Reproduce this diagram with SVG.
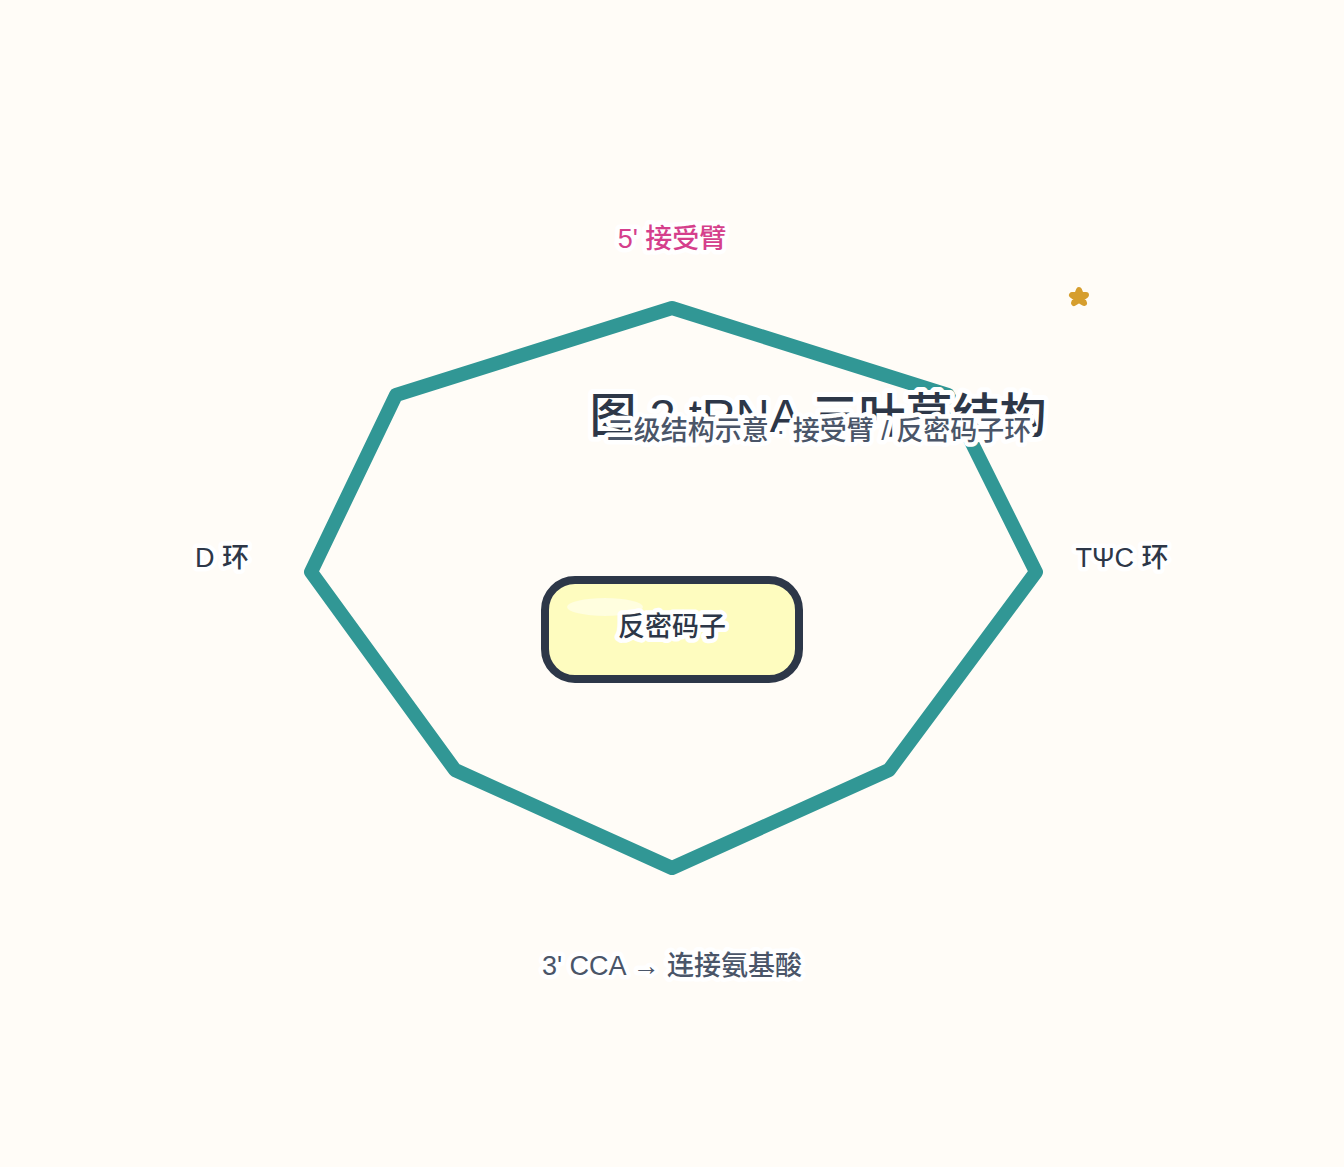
<svg xmlns="http://www.w3.org/2000/svg" width="1344" height="1167" viewBox="0 0 1344 1167">
  <style>
    .t { font-family: "Liberation Sans", "Noto Sans CJK SC", sans-serif; font-weight: 500; text-anchor: middle; paint-order: stroke; stroke: #ffffff; stroke-linejoin: round; }
    .lbl { font-size: 27px; stroke-width: 9px; }
  </style>
  <rect width="1344" height="1167" fill="#fffcf7"/>
  <g id="connectors">
    <polygon points="672,308 948,395 1036,572 889,770 672,868 455,770 311,572 396,395" fill="none" stroke="#319795" stroke-width="14" stroke-linejoin="round"/>
  </g>
  <g id="title">
    <text class="t" x="818" y="432" font-size="47" fill="#2d3748" stroke-width="10">图 2 tRNA 三叶草结构</text>
    <text class="t" x="819" y="440" font-size="27" fill="#4a5568" stroke-width="9">二级结构示意 · 接受臂 / 反密码子环</text>
  </g>
  <g id="node-acceptor">
    <text class="t lbl" x="672" y="248" fill="#d53f8c">5' 接受臂</text>
  </g>
  <g id="node-d-loop">
    <text class="t lbl" x="222" y="567" fill="#2d3748">D 环</text>
  </g>
  <g id="node-tpsic-loop">
    <text class="t lbl" x="1122" y="567" fill="#2d3748">TΨC 环</text>
  </g>
  <g id="node-cca">
    <text class="t lbl" x="672" y="975" fill="#4a5568">3' CCA → 连接氨基酸</text>
  </g>
  <g id="node-anticodon">
    <rect x="545" y="580" width="254" height="99" rx="30" fill="#fefcbf" stroke="#2d3748" stroke-width="8"/>
    <ellipse cx="605" cy="607" rx="38" ry="9" fill="#ffffff" opacity="0.5"/>
    <text class="t lbl" x="672" y="636" fill="#2d3748">反密码子</text>
  </g>
  <g id="sparkle">
    <path d="M1079,290 L1081,295 L1086,295 L1082,298 L1084,303 L1079,300 L1074,303 L1076,298 L1072,295 L1077,295 Z" fill="#d69e2e" stroke="#d69e2e" stroke-width="6" stroke-linejoin="round"/>
  </g>
</svg>
